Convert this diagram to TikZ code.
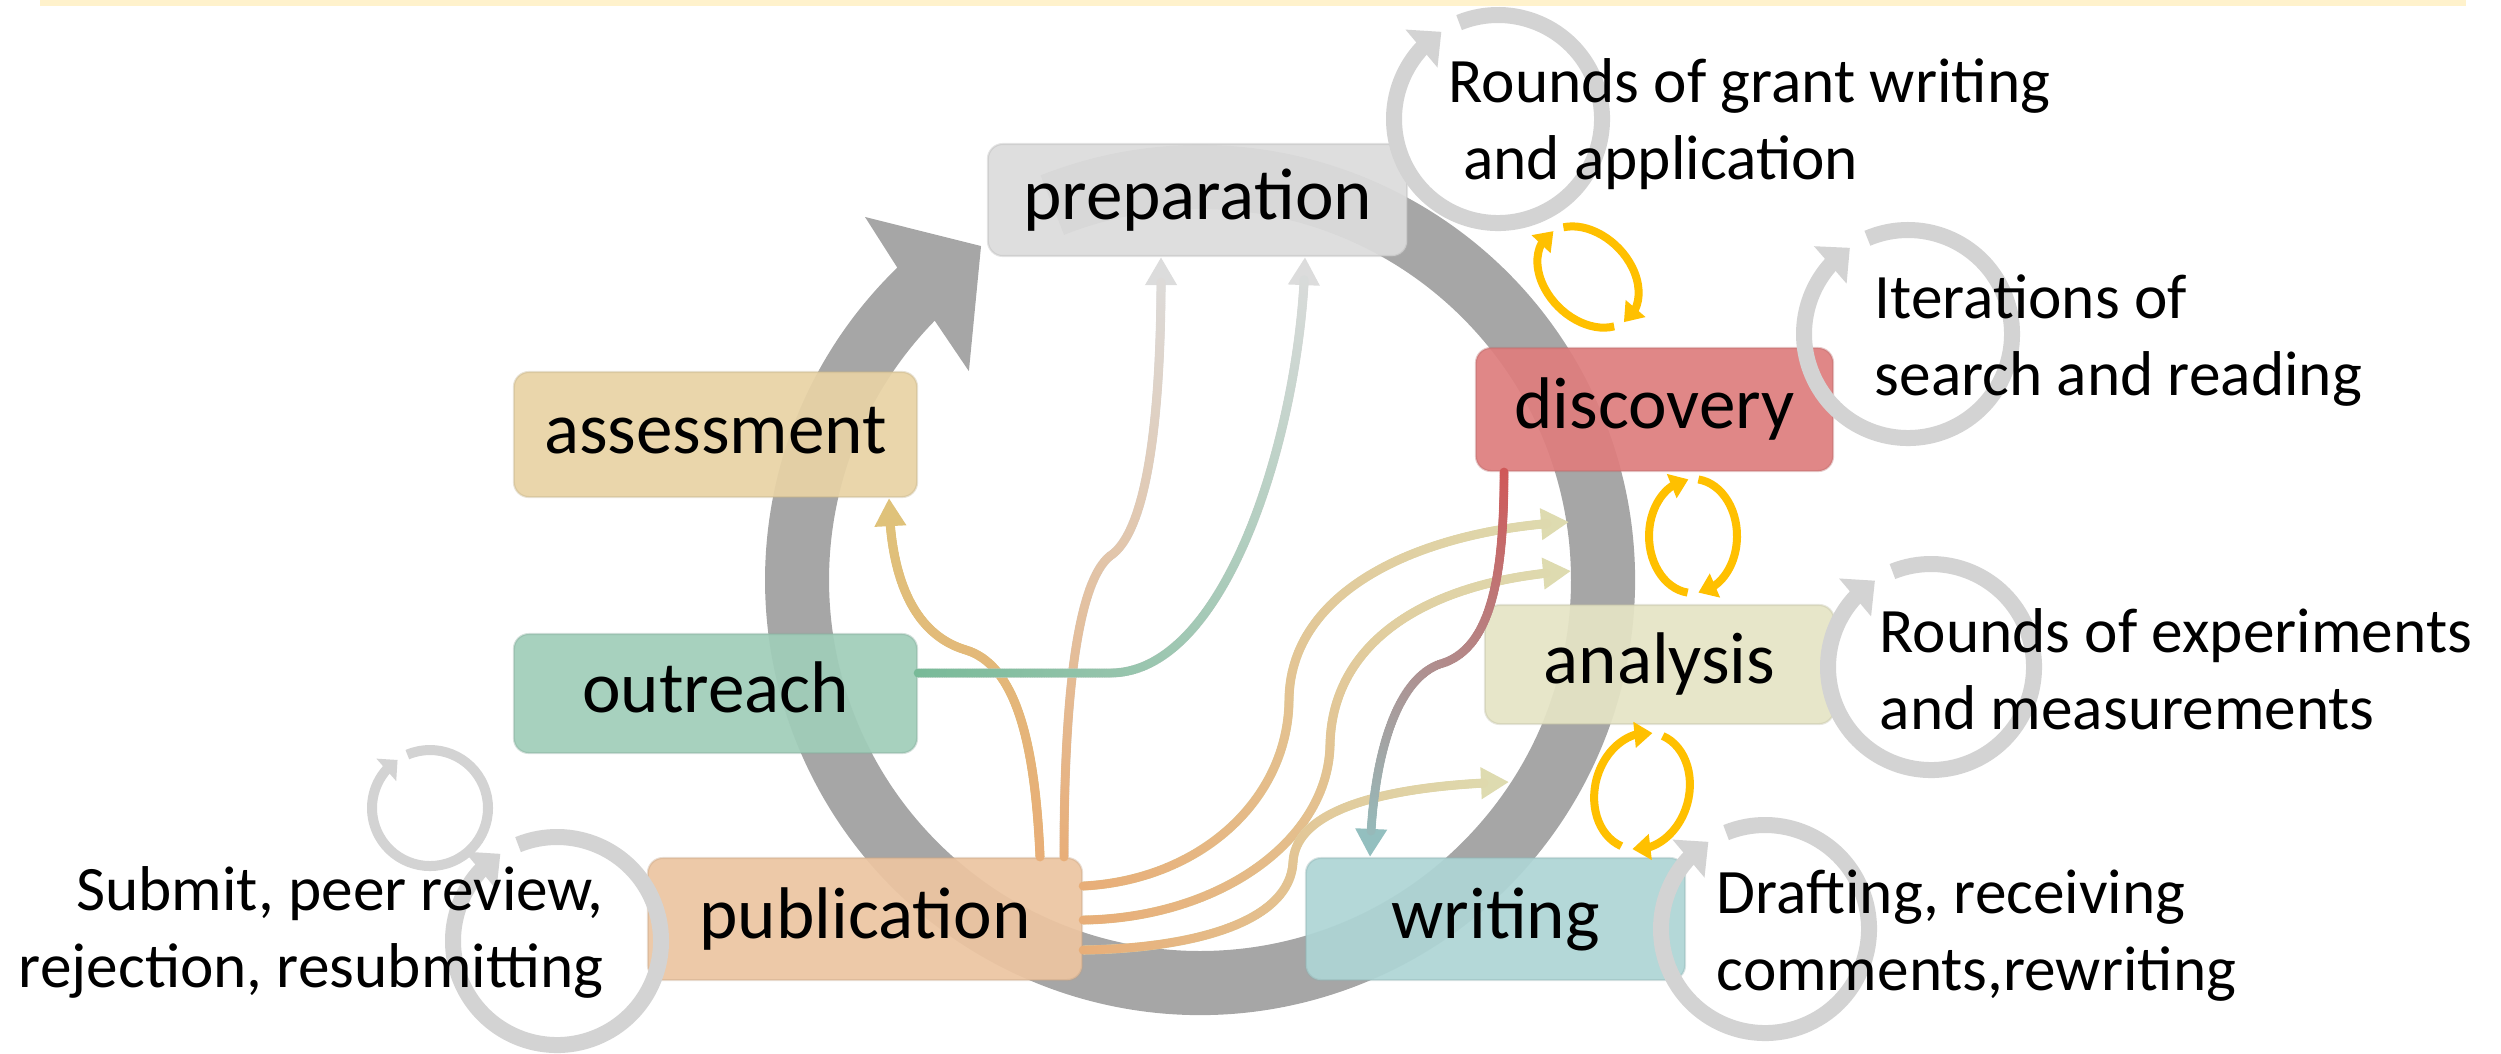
\documentclass[tikz,border=0pt]{standalone}
\usepackage{fontspec}
\setmainfont{Carlito}
\usetikzlibrary{arrows.meta,bending,decorations.markings,calc}

\definecolor{ringgray}{HTML}{A6A6A6}
\definecolor{loopgray}{HTML}{D3D3D3}
\definecolor{yel}{HTML}{FFC000}
\definecolor{band}{HTML}{FFF2CC}
\definecolor{prepfill}{HTML}{DCDCDC}
\definecolor{assfill}{HTML}{E8D3A5}
\definecolor{outfill}{HTML}{A0CDB9}
\definecolor{pubfill}{HTML}{ECC5A1}
\definecolor{discfill}{HTML}{DE7E7E}
\definecolor{anafill}{HTML}{E5E4C5}
\definecolor{wrifill}{HTML}{AED5D5}
\definecolor{cOrange}{HTML}{E8AE78}
\definecolor{cTan}{HTML}{DFC27A}
\definecolor{cPaleGray}{HTML}{DCDCDC}
\definecolor{cGreen}{HTML}{78BA98}
\definecolor{cOlive}{HTML}{DEDBB0}
\definecolor{cRed}{HTML}{D05858}
\definecolor{cTeal}{HTML}{93BFBF}

\newcommand\gstep{0.5}

\tikzset{
  phase/.style={rectangle, rounded corners=0.15cm, inner sep=0pt, fill=#1,
    fill opacity=0.93, draw=#1!82!black, draw opacity=0.35, line width=0.6pt,
    text opacity=1, font=\fontsize{20.8}{25}\selectfont,
    text height=0.52cm, text depth=0.14cm},
  sidetext/.style={inner sep=0pt, font=\fontsize{18}{21.9}\selectfont},
  loopar/.style={draw=loopgray, line width=0.16cm,
    -{Triangle[length=0.26cm,width=0.48cm]}},
  smallloopar/.style={draw=loopgray, line width=0.10cm,
    -{Triangle[length=0.15cm,width=0.29cm]}},
  yelar/.style={draw=yel, line width=0.08cm,
    -{Triangle[length=0.18cm,width=0.25cm]}},
  gradconn/.style 2 args={draw=#2, line width=0.09cm,
    -{Triangle[length=0.28cm,width=0.30cm]},
    postaction={decorate, decoration={markings,
      mark=between positions 0 and 1 step \gstep pt with {
        \pgfmathsetmacro\gd{(\pgfkeysvalueof{/pgf/decoration/mark info/sequence number}-1)*\gstep}
        \pgfmathtruncatemacro\gok{((\pgfdecoratedpathlength)-\gd)>7 ? 1 : 0}
        \ifnum\gok=1
          \pgfmathsetmacro\gfrac{100*(\gd/(\pgfdecoratedpathlength))}
          \fill[#2!\gfrac!#1] (0,0) circle[radius=0.045cm];
        \fi
      }}}},
}

\begin{document}
\begin{tikzpicture}[x=0.01cm,y=-0.01cm]
\useasboundingbox (0,0) rectangle (2501,1053);

% top band
\fill[band] (40,0) rectangle (2466,6);

% big cycle ring with arrow head
\fill[ringgray] ([shift={(1200,580)}]-111.5:435)
  arc[start angle=-111.5, end angle=225.9, radius=435]
  -- ([shift={(1200,580)}]227.3:494)
  -- ([shift={(1200,580)}]236.75:399.4)
  -- ([shift={(1200,580)}]222.1:311.5)
  -- ([shift={(1200,580)}]224.35:371)
  arc[start angle=224.35, end angle=-111.5, radius=371] -- cycle;

% phase boxes
\node[phase=prepfill, minimum width=4.19cm, minimum height=1.12cm] (prep) at (1197.5,200) {preparation};
\node[phase=assfill, minimum width=4.03cm, minimum height=1.25cm] (ass) at (715.5,434.5) {assessment};
\node[phase=outfill, minimum width=4.03cm, minimum height=1.19cm] (out) at (715.5,693.5) {outreach};
\node[phase=pubfill, minimum width=4.34cm, minimum height=1.22cm] (pub) at (865,919) {publication};
\node[phase=discfill, minimum width=3.57cm, minimum height=1.23cm] (disc) at (1654.5,409.5) {discovery};
\node[phase=anafill, minimum width=3.49cm, minimum height=1.19cm] (ana) at (1659.5,664.5) {analysis};
\node[phase=wrifill, minimum width=3.79cm, minimum height=1.22cm] (wri) at (1495.5,919) {writing};

% gray iteration loops
\draw[loopar] ([shift={(1498,119)}]-112:104) arc[start angle=-112, end angle=237, radius=104];
\draw[loopar] ([shift={(1908,334)}]-113:104) arc[start angle=-113, end angle=236, radius=104];
\draw[loopar] ([shift={(1931,667)}]-112:103) arc[start angle=-112, end angle=237, radius=103];
\draw[loopar] ([shift={(1765,929)}]-112:104) arc[start angle=-112, end angle=237, radius=104];
\draw[loopar] ([shift={(557,941)}]-112:104) arc[start angle=-112, end angle=237, radius=104];
\draw[smallloopar] ([shift={(430,808)}]-113:58) arc[start angle=-113, end angle=236, radius=58];

% yellow exchange arrows
\begin{scope}[shift={(1588,277)}, rotate=-45]
  \draw[yelar] (23:58 and 42) arc[start angle=23, end angle=191, x radius=58, y radius=42];
  \draw[yelar] (205:58 and 42) arc[start angle=205, end angle=369, x radius=58, y radius=42];
\end{scope}
\begin{scope}[shift={(1693,536)}]
  \draw[yelar] (97:44 and 57) arc[start angle=97, end angle=264, x radius=44, y radius=57];
  \draw[yelar] (277:44 and 57) arc[start angle=277, end angle=443, x radius=44, y radius=57];
\end{scope}
\begin{scope}[shift={(1642,791)}, rotate=-15]
  \draw[yelar] (97:47 and 59) arc[start angle=97, end angle=264, x radius=47, y radius=59];
  \draw[yelar] (277:47 and 59) arc[start angle=277, end angle=443, x radius=47, y radius=59];
\end{scope}

% free ends on the ring
\coordinate (d1end) at (1569,522);
\coordinate (d2end) at (1571,571);
\coordinate (d3end) at (1509,782);

% connectors
\draw[gradconn={cOrange}{cTan}] ($(pub.north)+(175,0)$)
  .. controls (1035,740) and (1015,665) .. (966,650)
  .. controls (915,635) and (890,580) .. ($(ass.south)+(173.5,0)$);
\draw[gradconn={cOrange}{cPaleGray}] ($(pub.north)+(199,0)$)
  .. controls (1064,680) and (1080,580) .. (1110,556)
  .. controls (1150,530) and (1162,400) .. ($(prep.south)+(-36.5,0)$);
\draw[gradconn={cGreen}{cPaleGray}] ($(out.east)+(0,-20.5)$) -- (1110,673)
  .. controls (1230,673) and (1302,420) .. ($(prep.south)+(107.5,0)$);
\draw[gradconn={cOrange}{cOlive}] ($(pub.east)+(0,-33)$)
  .. controls (1200,880) and (1288,800) .. (1289,700)
  .. controls (1290,590) and (1420,530) .. (d1end);
\draw[gradconn={cOrange}{cOlive}] ($(pub.east)+(0,1)$)
  .. controls (1220,918) and (1328,840) .. (1330,745)
  .. controls (1332,640) and (1430,580) .. (d2end);
\draw[gradconn={cOrange}{cOlive}] ($(pub.east)+(0,31)$)
  .. controls (1200,948) and (1290,920) .. (1293,862)
  .. controls (1296,805) and (1400,785) .. (d3end);
\draw[gradconn={cRed}{cTeal}, line width=0.08cm] ($(disc.south)+(-150.5,0)$)
  .. controls (1504,580) and (1490,650) .. (1440,664)
  .. controls (1395,680) and (1372,760) .. ($(wri.north)+(-125.5,0)$);

% side texts (anchored at the baseline of the last line)
\node[sidetext, align=left, anchor=base west] (t1) at (1448,179) {Rounds of grant writing\\\hspace*{0.23em}and application};
\node[sidetext, align=left, anchor=base west] (t2) at (1874,395) {Iterations of\\search and reading};
\node[sidetext, align=left, anchor=base west] (t3) at (1879,729) {Rounds of experiments\\and measurements};
\node[sidetext, align=left, anchor=base west] (t4) at (1716,990) {Drafting, receiving\\comments,rewriting};
\node[sidetext, align=right, anchor=base east] (t5) at (604,987) {Submit, peer review,\\rejection, resubmitting};
\end{tikzpicture}
\end{document}
